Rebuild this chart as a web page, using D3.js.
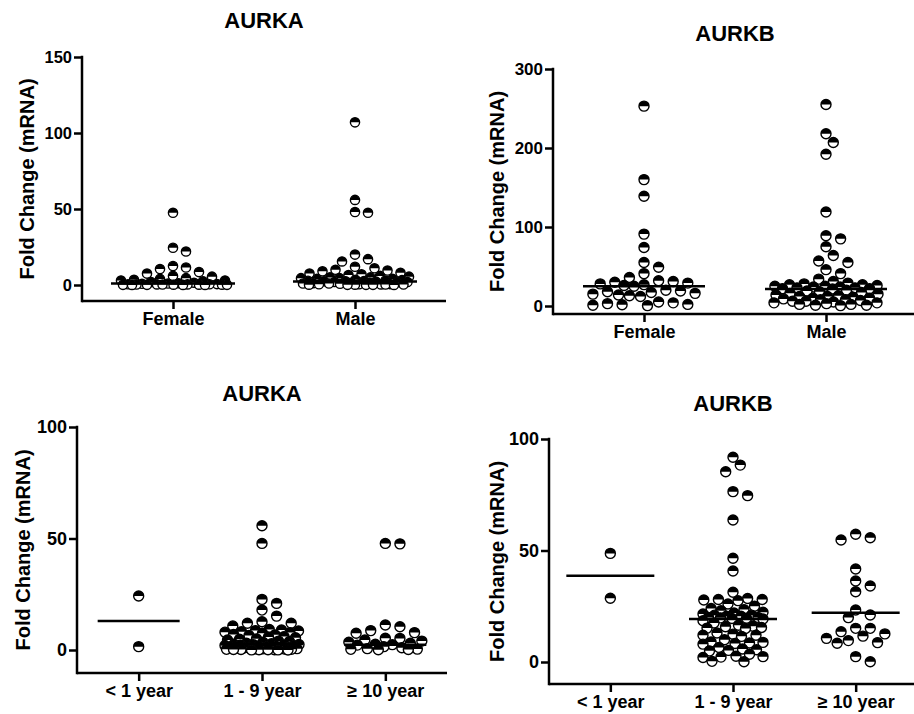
<!DOCTYPE html>
<html>
<head>
<meta charset="utf-8">
<script src="https://cdn.jsdelivr.net/npm/d3@7"></script>
<style>
  body { margin: 0; background: #fff; }
  svg { display: block; }
  text { font-family: "Liberation Sans", Arial, sans-serif; font-weight: bold; fill: #000; }
</style>
</head>
<body>
<svg width="914" height="714"></svg>
<script>
// ---- data ----
var sexCategories = ["Female", "Male"];
var ageCategories = ["< 1 year", "1 - 9 year", "\u2265 10 year"];

var aurkaFemale = [47.5, 22, 24.5, 12.5, 11.5, 10.5, 8.5, 7.5, 6, 5.5, 4.5, 4, 3.5, 3, 3, 2.5, 2, 1.5, 1.2, 1,
    0.8, 0.6, 0.5, 0.5, 0.4, 0.4, 0.3, 0.3, 0.2, 0.2, 0.2, 0.1, 0.1, 0.1, 0.05, 0.05, 0.02];
var aurkaMale = [107, 56, 48, 47.5, 20, 17, 15.5, 12, 11, 10, 9.5, 9, 8, 7.5, 7, 6.5, 6, 5.5, 5, 5, 4.5, 4.5, 4, 4,
    3.5, 3.2, 3, 2.8, 2.6, 2.5, 2.5, 2.2, 2, 2, 1.8, 1.5, 1.5, 1.2, 1, 1, 0.8, 0.6, 0.5, 0.5, 0.4, 0.3, 0.3,
    0.2, 0.2, 0.1, 0.1, 0.1, 0.05];

var aurkbFemale = [253, 160, 139, 91, 74, 55, 49, 41, 36, 32, 31, 30, 29, 28, 27, 26, 25, 20, 19, 18, 17, 16,
    15, 14, 13, 12, 5, 4, 3, 2, 1.5, 1, 0.5];
var aurkbMale = [255, 218, 207, 192, 119, 89, 85, 75, 64, 57, 55, 46, 41, 34, 31, 29, 28, 27, 27, 26, 25, 25,
    24, 24, 23, 23, 22, 22, 21.5, 20, 19, 18, 17, 16, 15, 14, 13, 12, 12, 11, 10, 10, 9, 8, 8, 7, 6, 6, 5, 4, 4,
    3, 2, 2, 1, 1, 0.5];

var aurkaUnder1 = [24.2, 1.5];
var aurka1to9 = [55.7, 47.8, 22.7, 20.9, 17.9, 15.2, 12.7, 12, 12, 10.8, 9.2, 9, 8.7, 8.5, 8.2, 8, 7.8, 7.5, 7,
    6.8, 6.5, 6, 5.8, 5.5, 5, 4.8, 4.5, 4, 3.8, 3.5, 3, 2.8, 2.6, 2.5, 2.4, 2.3, 2.2, 2, 1.9, 1.8, 1.6, 1.5, 1.4,
    1.2, 1, 1, 0.9, 0.8, 0.7, 0.6, 0.5, 0.5, 0.4, 0.3, 0.3, 0.2, 0.2, 0.1, 0.1, 0.1, 0.05, 0.05, 0.02];
var aurka10plus = [47.8, 47.6, 11.2, 10.4, 8.7, 7.8, 7.5, 5.3, 5.2, 4.5, 4, 3.5, 3, 2.6, 2.4, 2.2, 1.5, 1, 0.6,
    0.4, 0.3, 0.2, 0.1];

var aurkbUnder1 = [48.7, 28.6];
var aurkb1to9 = [91.8, 88.3, 85.3, 76.4, 74.6, 63.7, 46.5, 40.8, 31.3, 28.5, 28, 28, 27.8, 27.5, 26, 25, 24,
    23.5, 23, 22.3, 22, 21.5, 21, 21, 20.5, 20.5, 20, 20, 19.8, 19.6, 19.5, 19.3, 18.5, 17.5, 16.5, 16, 15.8,
    15.5, 15.2, 15, 13, 12.5, 12, 12, 11.5, 10, 9, 8.8, 8.5, 8.3, 8, 6.5, 5.8, 5.5, 5.2, 5, 3.5, 2.6, 2.4, 2.2,
    2, 0.3, 0.1];
var aurkb10plus = [57.3, 55.7, 54.7, 41.7, 36.3, 34.1, 31.5, 23.3, 21.1, 19.9, 15.1, 15.1, 13.6, 12.6, 11.6,
    10.6, 9.6, 8.7, 8.4, 2.4, 0.1];

// horizontal median lines
var aurkaSexMedians = [1, 2.3];
var aurkbSexMedians = [25, 21.5];
var aurkaAgeMedians = [13, 2.7, 2.4];
var aurkbAgeMedians = [38.7, 19.3, 22.1];

var aurkaSexTicks = [0, 50, 100, 150];
var aurkbSexTicks = [0, 100, 200, 300];
var ageTicks = [0, 50, 100];

var yLabel = "Fold Change (mRNA)";

// ---- panels ----
var panels = [
    { title: "AURKA", cats: sexCategories, groups: [aurkaFemale, aurkaMale], medians: aurkaSexMedians,
      ticks: aurkaSexTicks, domain: [0, 150],
      left: 82, right: 446, yZero: 285, yTop: 57, xAxisY: 301, titleY: 28, labelX: 27, tickFont: 16.5,
      r: 4.6, step: 6.5, maxHalf: 54, lineHalf: 62 },
    { title: "AURKB", cats: sexCategories, groups: [aurkbFemale, aurkbMale], medians: aurkbSexMedians,
      ticks: aurkbSexTicks, domain: [0, 300],
      left: 553, right: 917, yZero: 306, yTop: 69, xAxisY: 314, titleY: 41, labelX: 497, tickFont: 17,
      r: 5, step: 7.3, maxHalf: 52, lineHalf: 61 },
    { title: "AURKA", cats: ageCategories, groups: [aurkaUnder1, aurka1to9, aurka10plus], medians: aurkaAgeMedians,
      ticks: ageTicks, domain: [0, 100],
      left: 77, right: 447, yZero: 650, yTop: 427, xAxisY: 673, titleY: 401, labelX: 23, tickFont: 18,
      r: 5, step: 7.3, maxHalf: 37, lineHalf: 41 },
    { title: "AURKB", cats: ageCategories, groups: [aurkbUnder1, aurkb1to9, aurkb10plus], medians: aurkbAgeMedians,
      ticks: ageTicks, domain: [0, 100],
      left: 549, right: 917, yZero: 662, yTop: 439, xAxisY: 684, titleY: 411, labelX: 497, tickFont: 18,
      r: 5, step: 7.3, maxHalf: 30, lineHalf: 44 }
];

var svg = d3.select("svg");

// simple prism-like column scatter: points snap to a horizontal grid and avoid each other
function swarm(values, y, r, step, maxHalf) {
    var D = 2 * r + 0.4;
    var placed = [];
    var n = Math.floor(maxHalf / step + 1e-6);
    var cands = [0];
    for (var k = 1; k <= n; k++) cands.push(k * step, -k * step);
    var fine = [0];
    for (var c = 0.5; c <= maxHalf; c += 0.5) fine.push(c, -c);

    values.slice().sort(function (a, b) { return b - a; }).forEach(function (v) {
        var py = y(v);
        var near = placed.filter(function (p) { return Math.abs(p.py - py) < D; });
        var dist = function (dx) {
            return near.length ? d3.min(near, function (p) { return Math.hypot(p.dx - dx, p.py - py); }) : Infinity;
        };
        var dx = cands.find(function (c) { return dist(c) >= D; });
        if (dx === undefined) {
            var best = 0, bestD = -1;
            fine.forEach(function (c) {
                var m = dist(c);
                if (m > bestD + 0.01) { bestD = m; best = c; }
            });
            dx = best;
        }
        placed.push({ v: v, py: py, dx: dx });
    });
    return placed;
}

var halfArc = function (r) {
    return d3.arc()({ innerRadius: 0, outerRadius: r, startAngle: -Math.PI / 2, endAngle: Math.PI / 2 });
};

panels.forEach(function (p) {
    var g = svg.append("g");

    var y = d3.scaleLinear().domain(p.domain).range([p.yZero, p.yTop]);
    var x = d3.scalePoint().domain(p.cats).range([p.left, p.right]).padding(0.5);

    // title
    g.append("text")
        .attr("x", (p.left + p.right) / 2)
        .attr("y", p.titleY)
        .attr("text-anchor", "middle")
        .attr("font-size", 22)
        .text(p.title);

    // y label
    g.append("text")
        .attr("transform", "translate(" + p.labelX + "," + (p.yTop + p.xAxisY) / 2 + ") rotate(-90)")
        .attr("text-anchor", "middle")
        .attr("dominant-baseline", "central")
        .attr("font-size", 20)
        .text(yLabel);

    // axes
    var ya = g.append("g")
        .attr("transform", "translate(" + p.left + ",0)")
        .call(d3.axisLeft(y).tickValues(p.ticks).tickSize(8).tickPadding(2).tickSizeOuter(0));
    ya.select(".domain").remove();

    var xa = g.append("g")
        .attr("transform", "translate(0," + p.xAxisY + ")")
        .call(d3.axisBottom(x).tickSize(8).tickPadding(3).tickSizeOuter(0));
    xa.select(".domain").remove();

    [ya, xa].forEach(function (a) {
        a.attr("font-family", null).attr("font-size", null);
        a.selectAll("line").attr("stroke", "#000").attr("stroke-width", 2.5);
    });
    ya.selectAll("text").attr("font-size", p.tickFont);
    xa.selectAll("text").attr("font-size", 18);

    g.append("line")
        .attr("x1", p.left).attr("x2", p.left)
        .attr("y1", y(p.domain[1]) - 1.25).attr("y2", p.xAxisY + 1.25)
        .attr("stroke", "#000").attr("stroke-width", 2.5);
    g.append("line")
        .attr("x1", p.left).attr("x2", p.right)
        .attr("y1", p.xAxisY).attr("y2", p.xAxisY)
        .attr("stroke", "#000").attr("stroke-width", 2.5);

    // points
    p.groups.forEach(function (vals, i) {
        var cx = x(p.cats[i]);
        var pts = swarm(vals, y, p.r, p.step, p.maxHalf);
        var dots = g.append("g").selectAll("g")
            .data(pts)
            .enter().append("g")
            .attr("transform", function (d) { return "translate(" + (cx + d.dx) + "," + d.py + ")"; });
        dots.append("circle")
            .attr("r", p.r)
            .attr("fill", "#fff")
            .attr("stroke", "#000")
            .attr("stroke-width", 1.4);
        dots.append("path")
            .attr("d", halfArc(p.r))
            .attr("fill", "#000");
    });

    // median lines
    g.append("g").selectAll("line")
        .data(p.medians)
        .enter().append("line")
        .attr("x1", function (d, i) { return x(p.cats[i]) - p.lineHalf; })
        .attr("x2", function (d, i) { return x(p.cats[i]) + p.lineHalf; })
        .attr("y1", function (d) { return y(d); })
        .attr("y2", function (d) { return y(d); })
        .attr("stroke", "#000")
        .attr("stroke-width", 2.5);
});
</script>
</body>
</html>
